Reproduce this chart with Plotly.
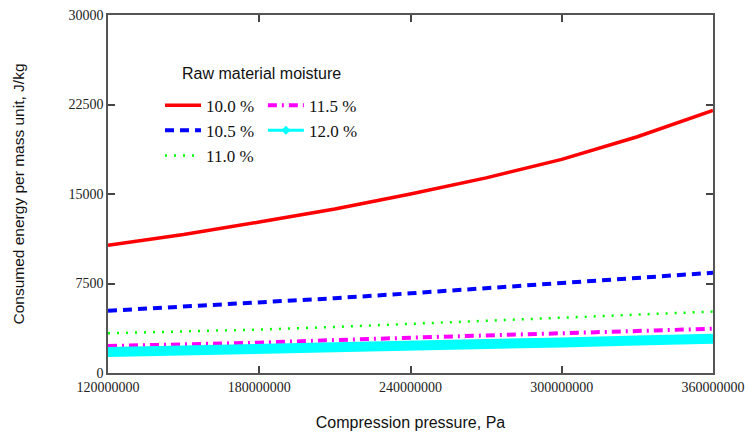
import plotly.graph_objects as go

pressure = [120e6, 150e6, 180e6, 210e6, 240e6, 270e6, 300e6, 330e6, 360e6]
e_100 = [10700, 11600, 12650, 13750, 15000, 16350, 17900, 19800, 22000]
e_105 = [5220, 5550, 5890, 6270, 6680, 7090, 7520, 7950, 8400]
e_110 = [3330, 3480, 3640, 3860, 4120, 4370, 4650, 4900, 5150]
e_115 = [2260, 2390, 2540, 2760, 2990, 3150, 3330, 3510, 3710]
e_120 = [1750, 1850, 1950, 2120, 2300, 2430, 2560, 2720, 2880]

labels = ["10.0 %", "10.5 %", "11.0 %", "11.5 %", "12.0 %"]
x_ticks = [120000000, 180000000, 240000000, 300000000, 360000000]
y_ticks = [0, 7500, 15000, 22500, 30000]

serif = "Liberation Serif, Times New Roman, serif"
sans = "Liberation Sans, Arial, sans-serif"

fig = go.Figure()
fig.add_trace(go.Scatter(x=pressure, y=e_100, mode="lines", name=labels[0],
                         line=dict(color="#ff0000", width=3.5), legend="legend"))
fig.add_trace(go.Scatter(x=pressure, y=e_105, mode="lines", name=labels[1],
                         line=dict(color="#0000ff", width=4, dash="9px,6px"), legend="legend"))
fig.add_trace(go.Scatter(x=pressure, y=e_110, mode="lines", name=labels[2],
                         line=dict(color="#00ff00", width=2.5, dash="2px,7px"), legend="legend"))
fig.add_trace(go.Scatter(x=pressure, y=e_115, mode="lines", name=labels[3],
                         line=dict(color="#ff00ff", width=4, dash="9px,5px,2px,5px"), legend="legend2"))
fig.add_trace(go.Scatter(x=pressure, y=e_120, mode="lines", name=labels[4], showlegend=False,
                         line=dict(color="#00ffff", width=10)))
fig.add_trace(go.Scatter(x=[None], y=[None], mode="lines+markers", name=labels[4],
                         line=dict(color="#00ffff", width=3),
                         marker=dict(symbol="diamond", size=7, color="#00ffff"),
                         legend="legend2"))

axis_common = dict(
    showline=True, linecolor="#555555", linewidth=1.5, mirror="ticks",
    ticks="inside", ticklen=7, tickcolor="#444444", tickwidth=1.5,
    showgrid=False, zeroline=False, automargin=False,
    tickfont=dict(family=serif, size=14, color="#222222"),
)

fig.update_layout(
    width=748, height=432,
    margin=dict(l=108, r=35, t=15, b=59),
    paper_bgcolor="white", plot_bgcolor="white",
    xaxis=dict(range=[120e6, 360e6], tickvals=x_ticks, ticktext=[str(v) for v in x_ticks],
               title=dict(text="Compression pressure, Pa", font=dict(family=sans, size=16, color="#111111"),
                          standoff=23),
               **axis_common),
    yaxis=dict(range=[0, 30000], tickvals=y_ticks, ticktext=[str(v) for v in y_ticks],
               title=dict(text="Consumed energy per mass unit, J/kg", font=dict(family=sans, size=15.5, color="#111111"),
                          standoff=40),
               **axis_common),
    legend=dict(x=0.086, y=0.797, xanchor="left", yanchor="top", bgcolor="rgba(0,0,0,0)",
                font=dict(family=serif, size=17, color="#111111"), tracegroupgap=0,
                itemwidth=36),
    legend2=dict(x=0.256, y=0.797, xanchor="left", yanchor="top", bgcolor="rgba(0,0,0,0)",
                 font=dict(family=serif, size=17, color="#111111"), tracegroupgap=0,
                 itemwidth=36),
    annotations=[dict(text="Raw material moisture", xref="paper", yref="paper",
                      x=(180 - 108) / 605, y=(373 - 73) / 358, xanchor="left", yanchor="middle",
                      showarrow=False, font=dict(family=sans, size=16, color="#111111"))],
)

fig.write_html("out.html", config={"displayModeBar": False},
               post_script="document.body.style.margin='0';document.body.style.padding='0';")
